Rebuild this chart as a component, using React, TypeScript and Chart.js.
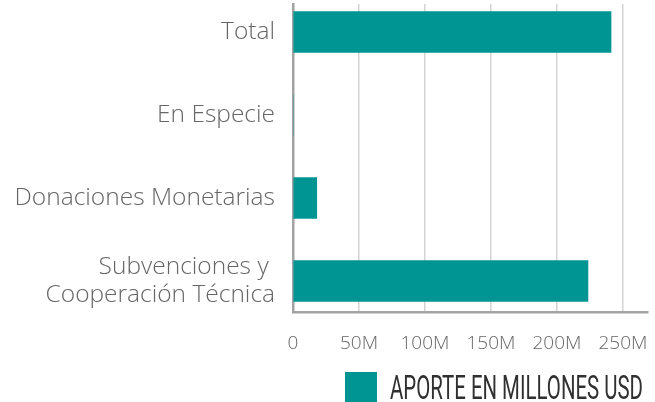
import React, { useEffect, useRef } from "react";
import { Chart, registerables } from "chart.js";

Chart.register(...registerables);

// ---- data ----
const categories: (string | string[])[] = [
  "Total",
  "En Especie",
  "Donaciones Monetarias",
  ["Subvenciones y ", "Cooperación Técnica"],
];
const aporteMillonesUSD = [241, 0, 18, 223.5];
const seriesLabel = "APORTE EN MILLONES USD";
const xTickValues = [0, 50, 100, 150, 200, 250];
const xTickLabels = ["0", "50M", "100M", "150M", "200M", "250M"];

const TEAL = "#009593";

const legendPlugin = {
  id: "squeezedLegend",
  afterDraw(chart: any) {
    const ds = chart.data.datasets[0];
    const ctx = chart.ctx as CanvasRenderingContext2D;
    ctx.save();
    ctx.fillStyle = ds.backgroundColor;
    ctx.fillRect(345, 372, 32, 30);
    ctx.font = "400 34px Roboto";
    ctx.fillStyle = "#303030";
    ctx.textBaseline = "alphabetic";
    ctx.textAlign = "left";
    const w = ctx.measureText(ds.label).width;
    const sx = 253 / w;
    ctx.translate(390, 399);
    ctx.scale(sx, 1);
    ctx.fillText(ds.label, 0, 0);
    ctx.restore();
  },
};

export default function App() {
  const ref = useRef<HTMLCanvasElement | null>(null);

  useEffect(() => {
    if (!ref.current) return;
    const chart = new Chart(ref.current, {
      type: "bar",
      data: {
        datasets: [
          {
            label: seriesLabel,
            data: aporteMillonesUSD.map((v, i) => ({ x: v, y: i })),
            backgroundColor: TEAL,
            borderWidth: 0,
            barThickness: 41,
          } as any,
        ],
      },
      options: {
        indexAxis: "y",
        responsive: false,
        animation: false,
        layout: { padding: { top: 4, right: 7, bottom: 40, left: 0 } },
        plugins: {
          legend: { display: false },
          tooltip: { enabled: false },
        },
        scales: {
          x: {
            type: "linear",
            bounds: "data",
            min: 0,
            max: 269,
            afterBuildTicks: (scale: any) => {
              scale.ticks = xTickValues.map((v) => ({ value: v }));
            },
            afterFit: (scale: any) => {
              scale.height = 50;
              scale.paddingLeft = 0;
              scale.paddingRight = 0;
            },
            grid: {
              color: "#d4d4d4",
              lineWidth: 1.5,
              drawTicks: false,
            },
            border: { display: true, color: "#a3a3a3", width: 2.5 },
            ticks: {
              padding: 20,
              color: "#666666",
              font: { family: "'Open Sans'", weight: "300", size: 19 },
              callback: (_v: any, i: number) => xTickLabels[i],
              maxRotation: 0,
              autoSkip: false,
            },
          },
          y: {
            type: "linear",
            bounds: "data",
            offset: false,
            reverse: true,
            min: -0.337,
            max: 3.374,
            afterBuildTicks: (scale: any) => {
              scale.ticks = categories.map((_c, i) => ({ value: i }));
            },
            afterFit: (scale: any) => {
              scale.width = 293;
              scale.paddingTop = 0;
              scale.paddingBottom = 0;
            },
            grid: { display: false, drawTicks: false, offset: false },
            border: { display: true, color: "#a3a3a3", width: 2.5 },
            ticks: {
              padding: 18,
              color: "#666666",
              autoSkip: false,
              font: { family: "'Open Sans'", weight: "300", size: 24.5, lineHeight: 1.13 },
              callback: (_v: any, i: number) => categories[i] as any,
            },
          },
        },
      },
      plugins: [legendPlugin],
    });
    return () => chart.destroy();
  }, []);

  return (
    <div style={{ position: "absolute", left: 0, top: 0, width: 655, height: 402 }}>
      <canvas ref={ref} width={655} height={402} style={{ display: "block" }} />
    </div>
  );
}
